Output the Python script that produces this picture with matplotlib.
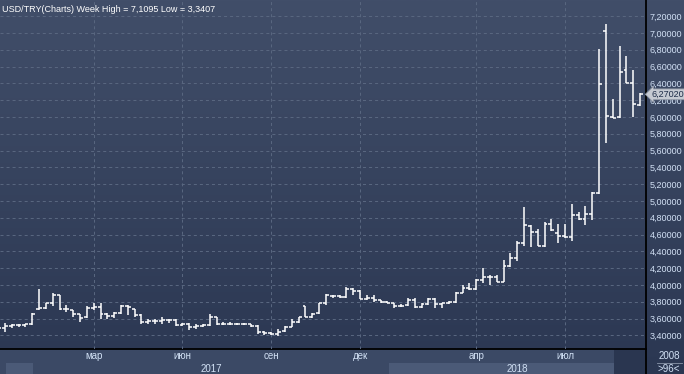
import numpy as np
import pandas as pd
import matplotlib
matplotlib.use("Agg")
import matplotlib.pyplot as plt
import matplotlib.dates as mdates
from matplotlib.colors import LinearSegmentedColormap
from matplotlib.ticker import FuncFormatter
import matplotlib.transforms as mtransforms
from matplotlib.lines import Line2D

# weekly USD/TRY bars
weeks = pd.date_range("2016-11-28", periods=95, freq="7D")

opens = [3.43, 3.49, 3.51, 3.52, 3.52, 3.53, 3.72, 3.73, 3.78, 3.88,
         3.71, 3.70, 3.65, 3.62, 3.73, 3.74, 3.65, 3.63, 3.67, 3.75,
         3.72, 3.64, 3.56, 3.57, 3.57, 3.58, 3.58, 3.52, 3.54, 3.50,
         3.51, 3.52, 3.62, 3.54, 3.54, 3.53, 3.53, 3.54, 3.51, 3.44,
         3.43, 3.42, 3.45, 3.50, 3.56, 3.75, 3.62, 3.67, 3.78, 3.87,
         3.87, 3.86, 3.95, 3.93, 3.83, 3.85, 3.82, 3.80, 3.79, 3.75,
         3.76, 3.82, 3.74, 3.77, 3.83, 3.77, 3.78, 3.80, 3.91, 3.96,
         3.95, 4.06, 4.09, 4.09, 4.04, 4.23, 4.32, 4.50, 4.70, 4.63,
         4.46, 4.73, 4.62, 4.58, 4.57, 4.83, 4.78, 4.84, 5.10, 7.02,
         6.00, 6.00, 6.56, 6.41, 6.14]
highs = [3.59, 3.55, 3.54, 3.54, 3.54, 3.67, 3.95, 3.79, 3.91, 3.88,
         3.76, 3.70, 3.66, 3.75, 3.78, 3.78, 3.67, 3.68, 3.76, 3.76,
         3.72, 3.65, 3.59, 3.59, 3.62, 3.60, 3.60, 3.55, 3.55, 3.54,
         3.54, 3.66, 3.62, 3.56, 3.56, 3.55, 3.55, 3.54, 3.52, 3.45,
         3.44, 3.48, 3.51, 3.59, 3.62, 3.75, 3.67, 3.79, 3.89, 3.88,
         3.88, 3.98, 3.96, 3.94, 3.88, 3.88, 3.82, 3.81, 3.79, 3.77,
         3.84, 3.84, 3.78, 3.84, 3.84, 3.79, 3.81, 3.92, 4.00, 4.02,
         4.07, 4.20, 4.12, 4.12, 4.30, 4.38, 4.52, 4.93, 4.71, 4.67,
         4.75, 4.78, 4.73, 4.73, 4.97, 4.87, 4.94, 5.11, 6.81, 7.11,
         6.21, 6.85, 6.73, 6.56, 6.29]
lows = [3.40, 3.44, 3.49, 3.50, 3.50, 3.52, 3.70, 3.72, 3.75, 3.70,
        3.68, 3.62, 3.56, 3.61, 3.70, 3.60, 3.60, 3.61, 3.66, 3.64,
        3.62, 3.54, 3.54, 3.54, 3.54, 3.55, 3.51, 3.51, 3.47, 3.48,
        3.50, 3.51, 3.52, 3.52, 3.52, 3.52, 3.52, 3.50, 3.42, 3.41,
        3.41, 3.39, 3.44, 3.50, 3.55, 3.62, 3.61, 3.66, 3.76, 3.85,
        3.84, 3.84, 3.88, 3.83, 3.82, 3.80, 3.79, 3.78, 3.73, 3.74,
        3.75, 3.73, 3.73, 3.76, 3.73, 3.73, 3.77, 3.79, 3.91, 3.94,
        3.94, 4.02, 4.00, 4.04, 4.04, 4.22, 4.28, 4.46, 4.45, 4.46,
        4.45, 4.64, 4.50, 4.56, 4.52, 4.77, 4.72, 4.77, 5.08, 5.69,
        5.985, 5.985, 6.40, 6.00, 6.13]
closes = [3.49, 3.51, 3.52, 3.52, 3.53, 3.66, 3.73, 3.78, 3.88, 3.71,
          3.71, 3.65, 3.61, 3.73, 3.74, 3.65, 3.63, 3.67, 3.75, 3.74,
          3.64, 3.56, 3.57, 3.57, 3.58, 3.58, 3.52, 3.54, 3.50, 3.51,
          3.52, 3.62, 3.54, 3.54, 3.53, 3.53, 3.54, 3.51, 3.44, 3.43,
          3.42, 3.44, 3.50, 3.56, 3.62, 3.62, 3.66, 3.78, 3.88, 3.87,
          3.86, 3.95, 3.93, 3.83, 3.85, 3.82, 3.80, 3.79, 3.75, 3.75,
          3.82, 3.74, 3.77, 3.83, 3.77, 3.78, 3.80, 3.91, 3.96, 3.95,
          4.06, 4.09, 4.09, 4.04, 4.23, 4.32, 4.50, 4.71, 4.63, 4.46,
          4.73, 4.65, 4.58, 4.57, 4.83, 4.78, 4.84, 5.10, 6.39, 6.01,
          5.99, 6.54, 6.41, 6.16, 6.27]

last_price = 6.2702
title = "USD/TRY(Charts) Week High = 7,1095 Low = 3,3407"
month_names = {(2017, 3): "мар", (2017, 6): "июн", (2017, 9): "сен",
               (2017, 12): "дек", (2018, 4): "апр", (2018, 7): "июл"}
years = ["2017", "2018"]

W, H = 684, 374
FONT = "Liberation Sans"
LBL = "#d2e1f5"
FS = 6.5      # price axis labels
BFS = 7       # time band labels

x = mdates.date2num(weeks)
x_left, x_right = x[0] + 2, x[-1] + 6

fig = plt.figure(figsize=(W / 100, H / 100), dpi=100)

# background gradient
bg = fig.add_axes([0, 0, 1, 1], zorder=0)
cmap = LinearSegmentedColormap.from_list("bg", ["#2b3752", "#414e69"])
bg.imshow(np.linspace(0, 1, 256).reshape(-1, 1)[::-1], aspect="auto",
          cmap=cmap, extent=[0, 1, 0, 1])
bg.axis("off")

# main price panel
ax = fig.add_axes([0, 25 / H, 646 / W, 349 / H], zorder=2)
ax.patch.set_alpha(0)
ax.vlines(x, lows, highs, color="white", lw=1.1, zorder=3)
ax.hlines(opens, x - 3, x, color="white", lw=1.1, zorder=3)
ax.hlines(closes, x, x + 3, color="white", lw=1.1, zorder=3)
ax.set_xlim(x_left, x_right)
ax.set_ylim(3.238, 7.393)

# month gridlines at the first weekly bar of each labelled month
month_x = []
for (yy, mm), name in month_names.items():
    first = weeks[(weeks.year == yy) & (weeks.month == mm)][0]
    month_x.append((mdates.date2num(first), name))
ax.set_xticks([m[0] for m in month_x])
ax.set_yticks(np.round(np.arange(3.4, 7.21, 0.2), 1))
ax.grid(True, color="#58667f", lw=0.75, linestyle=(0, (2.9, 2.9)))
ax.tick_params(axis="x", length=0, labelbottom=False)
ax.yaxis.tick_right()
ax.tick_params(axis="y", length=0, pad=2.5, labelcolor=LBL, labelsize=FS)
ax.yaxis.set_major_formatter(FuncFormatter(lambda v, p: f"{v:.5f}".replace(".", ",")))
for lab in ax.get_yticklabels():
    lab.set_family(FONT)
for s in ax.spines.values():
    s.set_visible(False)

# last price marker
trans = mtransforms.blended_transform_factory(ax.transAxes, ax.transData)
ax.text(1 + 5 / 646, last_price, f"{last_price:.5f}".replace(".", ","),
        transform=trans, va="center", ha="left", fontsize=FS, family=FONT,
        color="#1f2d48", clip_on=False, zorder=10,
        bbox=dict(boxstyle="larrow,pad=0.1", fc="#c6cad2", ec="#8f97a5", lw=0.6))

# time band below the chart
band = fig.add_axes([0, 0, 646 / W, 25 / H], zorder=1)
band.set_xlim(x_left, x_right)
band.set_ylim(0, 25)
band.axis("off")
band.fill_between([x_left, x_right], 0, 25, color="#3b4965", lw=0)
y2016 = x[1] + 1
y2017 = x[weeks.year == 2017][0] + 1
y2018 = x[weeks.year == 2018][0] + 2
band.fill_between([y2016, y2017], 0, 11, color="#4b5a77", lw=0)
band.fill_between([y2018, x_right], 0, 11, color="#4b5a77", lw=0)
band.fill_between([x[90] + 1, x_right], 0, 25, color="#2a3650", lw=0)
for mx, name in month_x:
    band.text(mx, 18, name, ha="center", va="center", fontsize=BFS,
              family=FONT, color=LBL)
band.text((y2017 + y2018) / 2, 5, years[0], ha="center", va="center",
          fontsize=BFS, family=FONT, color=LBL)
band.text((y2018 + x_right) / 2, 5, years[1], ha="center", va="center",
          fontsize=BFS, family=FONT, color=LBL)

# black frame lines
fig.add_artist(Line2D([646 / W, 646 / W], [0, 1], color="black", lw=1.3))
fig.add_artist(Line2D([0, 646 / W], [25 / H, 25 / H], color="black", lw=1.3))

# corner box
fig.text(669 / W, 1 - 356 / H, "2008", ha="center", va="center",
         fontsize=BFS, family=FONT, color=LBL)
fig.text(669 / W, 1 - 369 / H, ">96<", ha="center", va="center",
         fontsize=BFS, family=FONT, color=LBL)
fig.add_artist(Line2D([657 / W, 682 / W], [1 - 363 / H, 1 - 363 / H],
                      color="#8a96aa", lw=0.6))

fig.text(2 / W, 1 - 9 / H, title, ha="left", va="center", fontsize=6.5,
         family=FONT, color="white")

fig.savefig("out.png", dpi=100)
